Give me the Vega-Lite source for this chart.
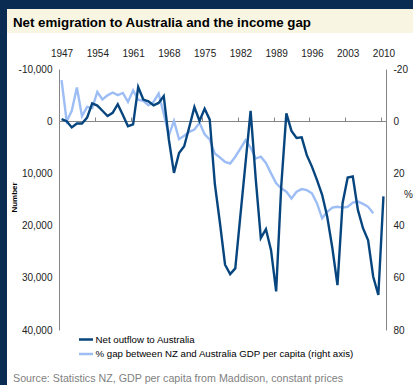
{
  "$schema": "https://vega.github.io/schema/vega-lite/v6.json",
  "background": "#0a2b52",
  "padding": {"left": 7, "top": 9, "right": 0, "bottom": 0},
  "spacing": 0,
  "config": {"font": "Liberation Sans", "view": {"stroke": null}},
  "data": {"values": [
    {"year": 1947, "outflow": -400, "gap": -15.7},
    {"year": 1948, "outflow": 0, "gap": 0},
    {"year": 1949, "outflow": 1200, "gap": -4},
    {"year": 1950, "outflow": 450, "gap": -12.9},
    {"year": 1951, "outflow": 450, "gap": -1.9},
    {"year": 1952, "outflow": -700, "gap": -5.5},
    {"year": 1953, "outflow": -3400, "gap": -5},
    {"year": 1954, "outflow": -3000, "gap": -11.2},
    {"year": 1955, "outflow": -2000, "gap": -8.3},
    {"year": 1956, "outflow": -1000, "gap": -9.9},
    {"year": 1957, "outflow": -1600, "gap": -11},
    {"year": 1958, "outflow": -3250, "gap": -10},
    {"year": 1959, "outflow": -1200, "gap": -10.8},
    {"year": 1960, "outflow": 950, "gap": -7.4},
    {"year": 1961, "outflow": 600, "gap": -11.8},
    {"year": 1962, "outflow": -6550, "gap": -8.2},
    {"year": 1963, "outflow": -4150, "gap": -7.8},
    {"year": 1964, "outflow": -3800, "gap": -6.1},
    {"year": 1965, "outflow": -3050, "gap": -7.4},
    {"year": 1966, "outflow": -3500, "gap": -10.6},
    {"year": 1967, "outflow": -4800, "gap": -2.9},
    {"year": 1968, "outflow": 3500, "gap": 5.4},
    {"year": 1969, "outflow": 9900, "gap": -0.1},
    {"year": 1970, "outflow": 6100, "gap": 6.9},
    {"year": 1971, "outflow": 4800, "gap": 5.6},
    {"year": 1972, "outflow": 1100, "gap": 4.1},
    {"year": 1973, "outflow": -2700, "gap": 3.2},
    {"year": 1974, "outflow": -50, "gap": 0.6},
    {"year": 1975, "outflow": -2400, "gap": 5},
    {"year": 1976, "outflow": -300, "gap": 7},
    {"year": 1977, "outflow": 12000, "gap": 12.4},
    {"year": 1978, "outflow": 19500, "gap": 13.9},
    {"year": 1979, "outflow": 27500, "gap": 15.6},
    {"year": 1980, "outflow": 29300, "gap": 16.2},
    {"year": 1981, "outflow": 28200, "gap": 13.6},
    {"year": 1982, "outflow": 18100, "gap": 10.5},
    {"year": 1983, "outflow": 8100, "gap": 7.3},
    {"year": 1984, "outflow": -2000, "gap": 10.1},
    {"year": 1985, "outflow": 11000, "gap": 14.3},
    {"year": 1986, "outflow": 22400, "gap": 13.6},
    {"year": 1987, "outflow": 20700, "gap": 16},
    {"year": 1988, "outflow": 24700, "gap": 20},
    {"year": 1989, "outflow": 32600, "gap": 23.8},
    {"year": 1990, "outflow": 12400, "gap": 25.7},
    {"year": 1991, "outflow": -1500, "gap": 27},
    {"year": 1992, "outflow": 1850, "gap": 29.6},
    {"year": 1993, "outflow": 3200, "gap": 27},
    {"year": 1994, "outflow": 3100, "gap": 26},
    {"year": 1995, "outflow": 6500, "gap": 26.4},
    {"year": 1996, "outflow": 8700, "gap": 27.6},
    {"year": 1997, "outflow": 11300, "gap": 31.5},
    {"year": 1998, "outflow": 14100, "gap": 37.2},
    {"year": 1999, "outflow": 18300, "gap": 34.7},
    {"year": 2000, "outflow": 24300, "gap": 33.1},
    {"year": 2001, "outflow": 31400, "gap": 32.8},
    {"year": 2002, "outflow": 15700, "gap": 33.1},
    {"year": 2003, "outflow": 10800, "gap": 32.8},
    {"year": 2004, "outflow": 10600, "gap": 31.2},
    {"year": 2005, "outflow": 17000, "gap": 30.8},
    {"year": 2006, "outflow": 20500, "gap": 31.7},
    {"year": 2007, "outflow": 22800, "gap": 32.8},
    {"year": 2008, "outflow": 29800, "gap": 35.3},
    {"year": 2009, "outflow": 33300, "gap": null},
    {"year": 2010, "outflow": 14400, "gap": null}
  ]},
  "vconcat": [
    {
      "width": 406,
      "height": 24,
      "view": {"fill": "#f8f6e2", "stroke": null},
      "title": {
        "text": "Net emigration to Australia and the income gap",
        "orient": "bottom", "anchor": "start", "frame": "group",
        "offset": -10, "dx": 6, "baseline": "middle",
        "fontSize": 13.3, "fontWeight": "bold", "color": "#000000"
      },
      "mark": {"type": "point", "opacity": 0},
      "encoding": {}
    },
    {
      "width": 406,
      "height": 352,
      "view": {"fill": "#ffffff", "stroke": null},
      "title": {
        "text": "Source: Statistics NZ, GDP per capita from Maddison, constant prices",
        "orient": "bottom", "anchor": "start", "frame": "group",
        "offset": -6, "dx": 6, "baseline": "middle",
        "fontSize": 10.7, "fontWeight": "normal", "color": "#7f7f7f"
      },
      "layer": [
        {
          "mark": {"type": "line", "strokeWidth": 2.4},
          "encoding": {
            "x": {
              "field": "year", "type": "quantitative",
              "scale": {"domain": [1946.5, 2010.5], "range": [52, 379], "nice": false, "zero": false},
              "axis": {
                "orient": "top", "offset": -25,
                "values": [1947, 1954, 1961, 1968, 1975, 1982, 1989, 1996, 2003, 2010],
                "format": "d", "domain": false, "ticks": false, "tickSize": 0,
                "labelPadding": 0, "labelFontSize": 10, "labelColor": "#222222",
                "grid": false, "title": null
              }
            },
            "y": {
              "field": "gap", "type": "quantitative",
              "scale": {"domain": [-20, 80], "range": [36, 297], "nice": false, "zero": false},
              "axis": {
                "orient": "right", "offset": -27,
                "values": [-20, 0, 20, 40, 60, 80],
                "labelExpr": "replace(format(datum.value, 'd'), '\u2212', '-')",
                "ticks": false, "tickSize": 0, "labelPadding": 7,
                "domainColor": "#868686", "grid": false,
                "labelFontSize": 10, "labelColor": "#222222",
                "title": "%", "titleAngle": 0, "titleX": 22, "titleY": 166,
                "titleFontSize": 10, "titleFontWeight": "normal", "titleColor": "#222222"
              }
            },
            "color": {
              "datum": "% gap between NZ and Australia GDP per capita (right axis)",
              "scale": {
                "domain": ["Net outflow to Australia", "% gap between NZ and Australia GDP per capita (right axis)"],
                "range": ["#07457e", "#9dbdf5"]
              },
              "legend": {
                "orient": "none", "legendX": 70.5, "legendY": 322,
                "title": null, "symbolType": "stroke", "symbolSize": 196,
                "symbolStrokeWidth": 2.5, "labelFontSize": 9.7, "labelColor": "#000000",
                "labelOffset": 1, "rowPadding": 0.5, "padding": 0, "labelLimit": 400
              }
            }
          }
        },
        {
          "mark": {"type": "line", "strokeWidth": 2.4},
          "encoding": {
            "x": {
              "field": "year", "type": "quantitative",
              "axis": {
                "orient": "top", "offset": -88,
                "values": [1953.5, 1960.5, 1967.5, 1974.5, 1981.5, 1988.5, 1995.5, 2002.5, 2009.5],
                "labels": false, "ticks": true, "tickSize": 4, "tickColor": "#868686",
                "domain": true, "domainColor": "#868686", "grid": false, "title": null
              }
            },
            "y": {
              "field": "outflow", "type": "quantitative",
              "scale": {"domain": [-10000, 40000], "range": [36, 297], "nice": false, "zero": false},
              "axis": {
                "orient": "left", "offset": -52,
                "values": [-10000, 0, 10000, 20000, 30000, 40000],
                "labelExpr": "replace(format(datum.value, ','), '\u2212', '-')",
                "ticks": false, "tickSize": 0, "labelPadding": 7,
                "domainColor": "#868686", "grid": false,
                "labelFontSize": 10, "labelColor": "#222222",
                "title": "Number", "titleFontSize": 8, "titleFontWeight": "bold",
                "titleColor": "#000000", "titleX": -41, "titleY": 164
              }
            },
            "color": {"datum": "Net outflow to Australia"}
          }
        }
      ],
      "resolve": {"scale": {"y": "independent"}, "axis": {"x": "independent"}}
    }
  ]
}
